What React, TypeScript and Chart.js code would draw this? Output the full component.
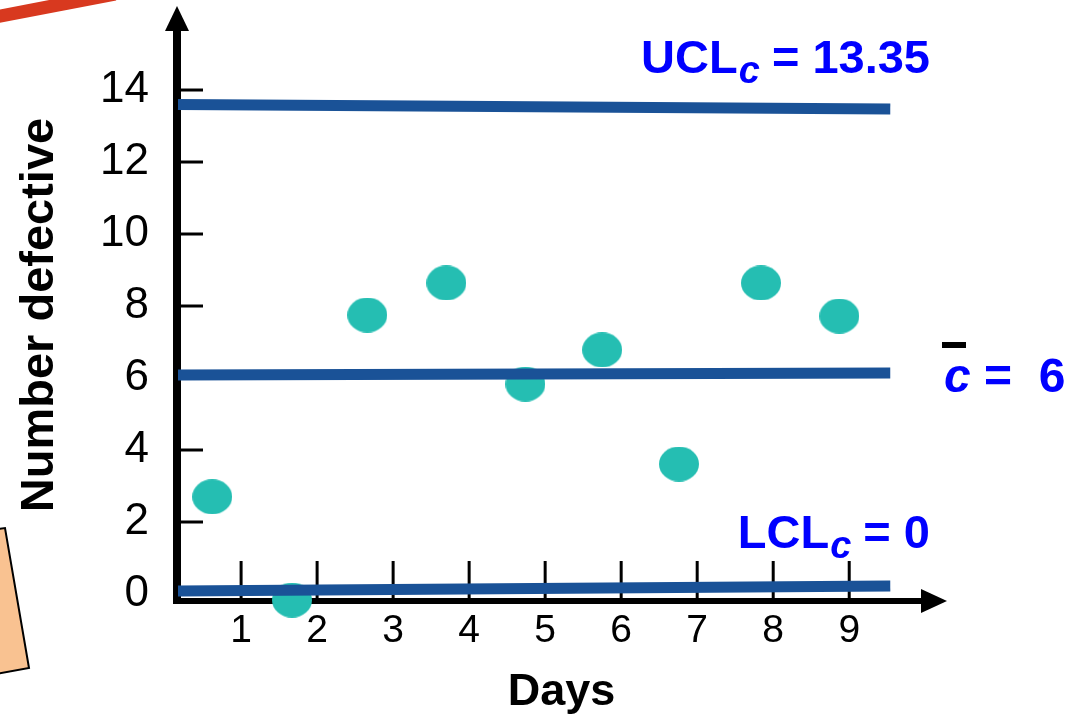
import React, { useEffect, useRef } from 'react';
import { Chart, registerables } from 'chart.js';
Chart.register(...registerables);

// ---- data ----
const dayTicks = [1, 2, 3, 4, 5, 6, 7, 8, 9];
const yTickValues = [0, 2, 4, 6, 8, 10, 12, 14];
const sampleDays = [0.62, 1.67, 2.66, 3.7, 4.74, 5.75, 6.76, 7.84, 8.87];
const defectCounts = [2.7, -0.17, 7.75, 8.64, 5.83, 6.78, 3.61, 8.64, 7.72];
const lineSpan = [0.17, 9.54];
const uclLine = [13.6, 13.47];
const centerLine = [6.08, 6.14];
const lclLine = [0.08, 0.22];
const uclValue = '13.35';
const cBarValue = '6';
const lclValue = '0';
const yTitle = 'Number defective';
const xTitle = 'Days';

const FONT = "'Liberation Sans', Arial, sans-serif";
const TEAL = '#25BEB2';
const LINE_BLUE = '#1A5297';
const TEXT_BLUE = '#0000FF';

function makeEllipse(): HTMLCanvasElement {
  const c = document.createElement('canvas');
  c.width = 40;
  c.height = 35;
  const g = c.getContext('2d')!;
  g.fillStyle = TEAL;
  g.beginPath();
  g.ellipse(20, 17.5, 20, 17.5, 0, 0, Math.PI * 2);
  g.fill();
  return c;
}

const decorPlugin = {
  id: 'decor',
  beforeDraw(chart: any) {
    const ctx = chart.ctx;
    ctx.save();
    ctx.fillStyle = '#ffffff';
    ctx.fillRect(0, 0, chart.width, chart.height);
    // red stroke top-left
    ctx.strokeStyle = '#D8391F';
    ctx.lineWidth = 13;
    ctx.beginPath();
    ctx.moveTo(-5, 17);
    ctx.lineTo(115, -6);
    ctx.stroke();
    // peach card bottom-left
    ctx.fillStyle = '#F9C291';
    ctx.strokeStyle = '#000';
    ctx.lineWidth = 2;
    ctx.beginPath();
    ctx.moveTo(-40, 534);
    ctx.lineTo(5, 528);
    ctx.lineTo(29, 668);
    ctx.lineTo(-20, 677);
    ctx.closePath();
    ctx.fill();
    ctx.stroke();
    ctx.restore();
  },
  beforeDatasetsDraw(chart: any) {
    const ctx = chart.ctx;
    const xs = chart.scales.x;
    const ys = chart.scales.y;
    const a = chart.chartArea;
    ctx.save();
    ctx.fillStyle = '#000';
    ctx.strokeStyle = '#000';
    // y axis
    ctx.lineWidth = 8;
    ctx.beginPath();
    ctx.moveTo(a.left - 1, a.bottom + 4);
    ctx.lineTo(a.left - 1, 28);
    ctx.stroke();
    ctx.beginPath();
    ctx.moveTo(a.left - 1, 6);
    ctx.lineTo(a.left - 13, 31);
    ctx.lineTo(a.left + 11, 31);
    ctx.closePath();
    ctx.fill();
    // x axis
    ctx.lineWidth = 6;
    ctx.beginPath();
    ctx.moveTo(a.left - 5, a.bottom + 1);
    ctx.lineTo(925, a.bottom + 1);
    ctx.stroke();
    ctx.beginPath();
    ctx.moveTo(947, a.bottom + 1);
    ctx.lineTo(921, a.bottom - 11);
    ctx.lineTo(921, a.bottom + 13);
    ctx.closePath();
    ctx.fill();
    // tick marks
    ctx.lineWidth = 3;
    yTickValues.forEach((v) => {
      const y = ys.getPixelForValue(v);
      ctx.beginPath();
      ctx.moveTo(a.left, y);
      ctx.lineTo(a.left + 25, y);
      ctx.stroke();
    });
    dayTicks.forEach((v) => {
      const x = xs.getPixelForValue(v);
      ctx.beginPath();
      ctx.moveTo(x, a.bottom - 39);
      ctx.lineTo(x, a.bottom - 2);
      ctx.stroke();
    });
    ctx.restore();
  },
  afterDatasetsDraw(chart: any) {
    const ctx = chart.ctx;
    ctx.save();
    ctx.textBaseline = 'alphabetic';
    ctx.textAlign = 'left';
    const main = `bold 47px ${FONT}`;
    const sub = `italic bold 38px ${FONT}`;
    const drawCL = (name: string, val: string, right: number, baseline: number) => {
      ctx.font = main;
      const w1 = ctx.measureText(name).width;
      const rest = ' = ' + val;
      const w3 = ctx.measureText(rest).width;
      ctx.font = sub;
      const w2 = ctx.measureText('c').width;
      let x = right - (w1 + w2 + w3);
      ctx.fillStyle = TEXT_BLUE;
      ctx.font = main;
      ctx.fillText(name, x, baseline);
      x += w1 + 1;
      ctx.font = sub;
      ctx.fillText('c', x, baseline + 10);
      x += w2 - 1;
      ctx.font = main;
      ctx.fillText(rest, x, baseline);
    };
    drawCL('UCL', uclValue, 930, 73);
    drawCL('LCL', lclValue, 930, 548);
    // c-bar label
    ctx.fillStyle = TEXT_BLUE;
    ctx.font = `italic bold 48px ${FONT}`;
    ctx.fillText('c', 944, 392);
    const wc = ctx.measureText('c').width;
    ctx.font = `bold 48px ${FONT}`;
    ctx.fillText(' =  ' + cBarValue, 944 + wc, 392);
    ctx.fillStyle = '#000';
    ctx.fillRect(942, 342, 24, 6);
    ctx.restore();
  },
};

export default function App() {
  const ref = useRef<HTMLCanvasElement>(null);
  useEffect(() => {
    document.body.style.margin = '0';
    const dot = makeEllipse();
    const lineDs = (label: string, vals: number[]) => ({
      label,
      data: lineSpan.map((d, i) => ({ x: d, y: vals[i] })),
      borderColor: LINE_BLUE,
      borderWidth: 11,
      pointRadius: 0,
      borderCapStyle: 'butt',
      order: 0,
      clip: false,
    });
    const chart = new Chart(ref.current!, {
      type: 'line',
      data: {
        datasets: [
          {
            label: 'defects',
            data: sampleDays.map((d, i) => ({ x: d, y: defectCounts[i] })),
            showLine: false,
            pointStyle: dot as any,
            pointRadius: 20,
            order: 1,
            clip: false as any,
          },
          lineDs('UCL', uclLine),
          lineDs('CL', centerLine),
          lineDs('LCL', lclLine),
        ],
      },
      options: {
        responsive: false,
        animation: false,
        events: [],
        layout: { padding: { top: 30, right: 132, left: 0, bottom: 0 } },
        plugins: { legend: { display: false }, tooltip: { enabled: false } },
        scales: {
          x: {
            type: 'linear',
            min: 0.17,
            max: 10.26,
            afterBuildTicks: (s: any) => {
              s.ticks = dayTicks.map((v) => ({ value: v }));
            },
            afterFit: (s: any) => {
              s.height = 115;
              s.paddingLeft = 0;
              s.paddingRight = 0;
            },
            grid: { display: false, drawTicks: false },
            border: { display: false },
            ticks: {
              color: '#000',
              font: { family: FONT, size: 39 },
              padding: 8,
              maxRotation: 0,
              callback: (v: any) => String(v),
            },
            title: {
              display: true,
              text: xTitle,
              color: '#000',
              font: { family: FONT, size: 45, weight: 'bold', lineHeight: 1.0 },
              padding: { top: 0, bottom: 0 },
            },
          },
          y: {
            type: 'linear',
            min: -0.1667,
            max: 15.667,
            afterBuildTicks: (s: any) => {
              s.ticks = yTickValues.map((v) => ({ value: v }));
            },
            afterFit: (s: any) => {
              s.width = 178;
              s.paddingTop = 0;
              s.paddingBottom = 0;
            },
            grid: { display: false, drawTicks: false },
            border: { display: false },
            ticks: {
              color: '#000',
              font: { family: FONT, size: 44 },
              padding: 29,
              callback: (v: any) => String(v),
            },
            title: {
              display: true,
              text: yTitle,
              color: '#000',
              font: { family: FONT, size: 47, weight: 'bold' },
              padding: { top: 12, bottom: 0 },
            },
          },
        },
      },
      plugins: [decorPlugin],
    } as any);
    return () => chart.destroy();
  }, []);
  return (
    <div style={{ width: 1077, height: 715 }}>
      <canvas ref={ref} width={1077} height={715} />
    </div>
  );
}
